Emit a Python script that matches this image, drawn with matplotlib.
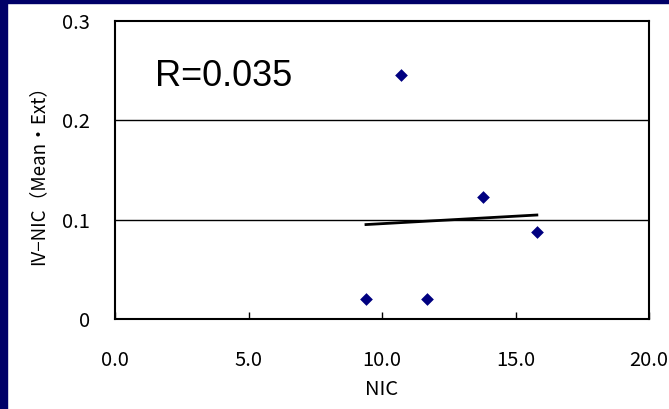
import numpy as np
import matplotlib
matplotlib.use("Agg")
import matplotlib.pyplot as plt
from matplotlib.patches import Rectangle

plt.rcParams['font.family'] = ['Noto Sans CJK JP', 'DejaVu Sans']

nic = [9.4, 10.7, 11.7, 13.8, 15.8]
iv_nic = [0.020, 0.246, 0.020, 0.123, 0.088]
x_ticks = [0.0, 5.0, 10.0, 15.0, 20.0]
x_tick_labels = ["0.0", "5.0", "10.0", "15.0", "20.0"]
y_ticks = [0.0, 0.1, 0.2, 0.3]
y_tick_labels = ["0", "0.1", "0.2", "0.3"]
r_text = "R=0.035"
x_label = "NIC"
y_label = "IV\u2212NIC\uff08Mean\u30fbExt\uff09"

W, H = 669, 409
fig = plt.figure(figsize=(W / 100, H / 100), dpi=100)
fig.patch.set_facecolor('white')
navy = '#000068'
fig.patches.append(Rectangle((0, 0), 7 / W, 1, transform=fig.transFigure, color=navy, zorder=0))
fig.patches.append(Rectangle((0, 1 - 3 / H), 1, 3 / H, transform=fig.transFigure, color=navy, zorder=0))

ax = fig.add_axes([115 / W, 90 / H, (649 - 115) / W, (319 - 21) / H])
ax.set_xlim(0, 20)
ax.set_ylim(0, 0.3)

for yv in y_ticks[1:-1]:
    ax.axhline(yv, color='black', lw=1.0, zorder=1)

ax.scatter(nic, iv_nic, marker='D', s=42, color='#000080', zorder=3, linewidths=0)

x = np.array(nic)
y = np.array(iv_nic)
slope, intercept = np.polyfit(x, y, 1)
xs = np.array([x.min(), x.max()])
ax.plot(xs, slope * xs + intercept, color='black', lw=2.0, zorder=2)

ax.text(1.5, 0.235, r_text, fontsize=26, family=['Liberation Sans', 'DejaVu Sans'],
        va='baseline', ha='left', color='black')

ax.set_xticks(x_ticks)
ax.set_xticklabels(x_tick_labels)
ax.set_yticks(y_ticks)
ax.set_yticklabels(y_tick_labels)
ax.tick_params(axis='x', direction='in', length=5, width=1, pad=22, labelsize=14.5)
ax.tick_params(axis='y', direction='in', length=0, width=1, pad=18, labelsize=14.5)
for s in ax.spines.values():
    s.set_linewidth(1.5)
    s.set_color('black')

ax.set_xlabel(x_label, fontsize=14.5, labelpad=6)
ax.set_ylabel(y_label, fontsize=13.5, labelpad=10)

fig.savefig('out.png', dpi=100, facecolor=fig.get_facecolor())
